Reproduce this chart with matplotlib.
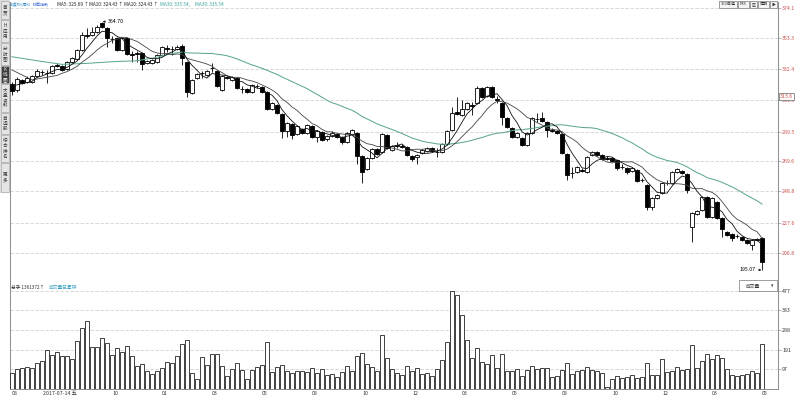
import matplotlib
matplotlib.use("Agg")
import matplotlib.pyplot as plt
import numpy as np
import pandas as pd
from matplotlib.patches import Rectangle

plt.rcParams['font.family'] = ['Noto Sans CJK SC', 'DejaVu Sans']

# weekly candles
open_px = [322.2, 318.1, 324.9, 323.6, 323.6, 327.7, 330.7, 330.0, 329.7, 335.2,
           334.2, 332.4, 337.2, 339.3, 345.4, 355.7, 355.7, 357.7, 363.9, 360.4,
           352.9, 353.6, 345.4, 353.6, 342.7, 343.4, 343.4, 336.5, 336.5, 337.2,
           342.0, 346.8, 346.1, 346.1, 348.2, 337.2, 316.1, 326.3, 329.7, 328.3,
           333.1, 331.1, 318.1, 327.3, 324.9, 326.3, 319.1, 318.8, 316.7, 320.8,
           320.1, 316.7, 305.1, 307.8, 301.7, 290.1, 294.9, 288.1, 291.5, 288.7,
           293.5, 286.0, 289.4, 284.6, 286.7, 288.1, 286.0, 282.6, 288.1, 288.7,
           273.0, 264.1, 271.7, 277.8, 275.7, 287.4, 277.1, 280.5, 279.9, 279.2,
           273.0, 272.3, 275.1, 276.4, 278.5, 276.1, 275.7, 281.2, 290.8, 303.1,
           301.0, 305.1, 307.8, 309.2, 319.5, 314.0, 320.1, 311.9, 309.2, 299.0,
           292.1, 286.0, 285.3, 280.5, 288.7, 298.3, 299.0, 296.3, 290.8, 290.1,
           288.1, 274.4, 261.4, 262.1, 263.5, 262.1, 273.7, 275.7, 273.7, 271.7,
           271.7, 270.3, 265.8, 264.8, 262.8, 263.5, 256.6, 253.2, 238.2, 244.3,
           247.7, 254.9, 254.6, 262.1, 262.8, 260.7, 224.5, 233.4, 236.1, 245.0,
           231.4, 241.6, 230.7, 221.1, 219.7, 218.7, 217.7, 215.7, 212.2, 216.3,
           217.0]
close_px = [317.4, 325.6, 322.9, 326.3, 327.7, 331.1, 330.4, 329.7, 334.5, 334.8,
            331.8, 337.2, 339.9, 345.4, 355.7, 355.3, 357.7, 361.1, 361.1, 353.6,
            352.6, 345.4, 353.6, 342.7, 342.3, 343.0, 335.8, 337.9, 338.6, 342.0,
            347.5, 346.4, 345.8, 347.5, 339.9, 316.7, 324.9, 329.0, 329.4, 331.1,
            332.8, 320.8, 327.7, 326.3, 327.0, 319.5, 318.8, 316.7, 321.5, 320.5,
            316.7, 305.1, 309.2, 302.4, 290.1, 295.6, 287.4, 293.5, 288.7, 294.2,
            286.0, 290.1, 284.0, 286.7, 288.7, 286.0, 282.6, 288.7, 290.8, 273.0,
            262.1, 271.7, 277.8, 274.4, 288.1, 278.5, 279.9, 280.2, 279.5, 273.7,
            271.0, 273.7, 277.1, 278.5, 276.4, 275.7, 281.2, 290.1, 302.4, 301.7,
            305.1, 309.2, 307.5, 319.5, 313.3, 320.1, 313.3, 311.6, 299.7, 292.8,
            286.0, 288.7, 280.5, 288.7, 299.0, 298.0, 296.9, 290.8, 290.4, 288.7,
            275.1, 260.0, 261.1, 265.5, 263.1, 272.3, 275.7, 273.7, 271.0, 271.3,
            269.6, 264.8, 265.5, 262.1, 264.8, 255.9, 256.3, 238.2, 244.3, 246.4,
            254.6, 254.6, 262.1, 264.1, 261.4, 249.8, 234.1, 235.4, 245.0, 231.4,
            244.3, 230.7, 223.2, 219.0, 217.0, 218.4, 215.7, 213.6, 215.7, 216.0,
            200.6]
high_px = [323.6, 327.0, 325.6, 327.7, 328.3, 332.4, 331.8, 331.8, 335.2, 336.5,
           335.2, 337.9, 340.6, 346.1, 357.7, 360.4, 361.1, 362.5, 364.7, 361.1,
           355.0, 354.3, 354.3, 354.3, 344.7, 344.7, 344.0, 338.6, 339.3, 342.7,
           348.2, 348.8, 348.2, 348.8, 349.5, 337.9, 325.6, 329.7, 331.1, 331.8,
           336.5, 331.8, 328.3, 327.7, 327.7, 327.0, 320.8, 319.5, 322.2, 322.2,
           320.8, 317.4, 309.9, 308.5, 302.4, 296.3, 295.6, 294.2, 292.1, 294.9,
           294.2, 290.8, 290.1, 287.4, 290.1, 288.7, 286.7, 289.4, 291.5, 289.4,
           273.7, 272.3, 278.5, 278.5, 288.7, 288.1, 280.5, 282.6, 281.2, 279.9,
           273.7, 274.4, 277.8, 279.2, 279.2, 278.5, 281.9, 290.8, 306.5, 313.3,
           311.3, 309.9, 309.9, 320.8, 320.1, 320.8, 320.8, 314.0, 309.9, 299.7,
           292.8, 289.4, 286.0, 289.4, 299.7, 302.4, 303.1, 296.9, 292.1, 290.8,
           288.7, 275.1, 265.5, 266.2, 264.8, 273.0, 276.4, 276.4, 274.4, 273.0,
           272.3, 271.0, 267.6, 265.5, 265.5, 264.1, 258.0, 253.9, 245.0, 247.1,
           255.3, 256.6, 262.8, 264.8, 263.5, 261.4, 234.8, 236.1, 245.7, 245.7,
           245.0, 242.3, 231.4, 221.8, 220.4, 219.7, 218.4, 216.3, 216.3, 217.0,
           217.7]
low_px = [314.7, 316.7, 322.2, 322.9, 322.9, 327.0, 328.3, 322.9, 329.0, 333.8,
          331.1, 331.8, 336.5, 338.6, 344.7, 353.6, 355.0, 357.0, 360.4, 347.5,
          350.2, 344.7, 344.7, 342.0, 337.2, 337.2, 331.8, 335.8, 335.8, 336.5,
          341.3, 344.0, 342.0, 345.4, 335.2, 313.3, 315.4, 325.6, 326.3, 327.7,
          330.4, 320.1, 317.4, 325.6, 324.2, 318.8, 316.1, 316.1, 316.1, 319.5,
          316.1, 304.4, 304.4, 301.7, 285.3, 286.0, 284.6, 287.4, 288.1, 288.1,
          285.3, 282.6, 283.3, 283.3, 286.0, 285.3, 281.2, 281.9, 287.4, 267.6,
          254.6, 263.5, 271.0, 273.7, 275.1, 277.8, 276.4, 278.5, 278.5, 273.0,
          269.6, 267.6, 274.4, 275.7, 275.7, 272.3, 275.1, 280.5, 290.1, 301.0,
          300.3, 304.4, 301.0, 308.5, 312.6, 313.3, 312.6, 309.2, 294.2, 292.1,
          285.3, 285.3, 279.9, 279.9, 288.1, 296.3, 296.3, 286.0, 289.4, 288.1,
          274.4, 256.6, 258.0, 261.4, 262.1, 261.4, 273.0, 273.0, 270.3, 270.3,
          268.9, 263.5, 264.1, 260.7, 262.1, 255.3, 255.3, 236.1, 236.1, 243.6,
          247.1, 253.2, 253.9, 261.4, 260.7, 247.7, 214.3, 232.7, 235.4, 230.7,
          230.7, 230.0, 217.7, 218.4, 215.0, 217.0, 215.0, 212.9, 208.8, 215.0,
          195.07]
volume = [76, 97, 101, 106, 104, 125, 136, 188, 166, 179,
          159, 162, 146, 234, 297, 331, 203, 203, 247, 222,
          166, 200, 182, 209, 159, 110, 120, 88, 71, 88,
          101, 130, 127, 162, 218, 237, 76, 49, 154, 117,
          169, 169, 110, 62, 97, 125, 93, 49, 93, 107,
          115, 229, 83, 107, 117, 88, 78, 88, 90, 85,
          100, 80, 95, 70, 75, 60, 85, 110, 90, 160,
          175, 120, 105, 90, 265, 150, 95, 80, 70, 110,
          90, 100, 75, 80, 65, 95, 140, 230, 477, 460,
          360, 240, 150, 200, 130, 120, 165, 100, 170, 88,
          88, 97, 63, 93, 110, 97, 101, 101, 60, 63,
          93, 127, 73, 89, 93, 106, 93, 88, 76, 11,
          49, 65, 54, 60, 67, 54, 58, 125, 67, 67,
          145, 83, 88, 106, 93, 97, 213, 101, 136, 169,
          146, 164, 151, 97, 68, 63, 68, 73, 89, 78,
          218]

# moving-average lines where the window reaches back before the first bar
ma5_lead_bars, ma5_lead = [0], [320.8]
ma10_lead_bars, ma10_lead = [0, 4], [331.8, 325.0]
ma30_lead_bars, ma30_lead = [0, 5, 10, 15, 20, 25], [340.8, 338.1, 335.6, 336.3, 337.4, 338.1]

price_ticks = [374.1, 353.3, 332.4, 311.5, 289.5, 269.6, 248.8, 227.6, 206.8]
vol_ticks = [97, 191, 288, 383, 477]
date_bars = [0, 20, 30, 40, 50, 60, 70, 80, 90, 100, 110, 120, 130, 140, 150]
date_labels = ["08", "10", "01", "03", "05", "08", "10", "12", "03", "05",
               "08", "10", "12", "03", "05"]

W, H = 800, 398
fig = plt.figure(figsize=(8, 3.98), dpi=100)
fig.patch.set_facecolor("white")


def box(x0, y0, x1, y1):
    return [x0 / W, 1 - y1 / H, (x1 - x0) / W, (y1 - y0) / H]


def fx(x):
    return x / W


def fy(y):
    return 1 - y / H


ax = fig.add_axes(box(10, 2, 778, 283))
axv = fig.add_axes(box(10, 283, 778, 389), sharex=ax)

n = len(close_px)
idx = np.arange(n)
o = np.array(open_px)
c = np.array(close_px)
up = c >= o

# candles
ax.vlines(idx, low_px, high_px, color="black", lw=0.6, zorder=2)
ax.bar(idx, np.maximum(np.abs(c - o), 0.3), bottom=np.minimum(o, c), width=0.72,
       color=np.where(up, "white", "black"), edgecolor="black", lw=0.6, zorder=3)

# MA lines
s = pd.Series(close_px)


def ma_line(win, lead_bars, lead_vals):
    m = s.rolling(win).mean()
    xs = list(lead_bars) + list(range(win - 1, n))
    ys = list(lead_vals) + list(m.iloc[win - 1:])
    return xs, ys


ax.plot(*ma_line(30, ma30_lead_bars, ma30_lead), color="#5fa894", lw=0.75, zorder=4)
ax.plot(*ma_line(10, ma10_lead_bars, ma10_lead), color="#444444", lw=0.6, zorder=4)
ax.plot(*ma_line(5, ma5_lead_bars, ma5_lead), color="#111111", lw=0.6, zorder=4)

ax.set_xlim(-0.4, 153.2)
ax.set_ylim(186.3, 378.2)
ax.set_yticks(price_ticks)
ax.set_yticklabels([f"{v:.1f}" for v in price_ticks])
ax.yaxis.tick_right()
ax.tick_params(axis="y", labelsize=3.8, labelcolor="#c8504d", length=2, color="#999999", pad=1, width=0.5)
ax.tick_params(axis="x", bottom=False, labelbottom=False)
ax.grid(axis="y", color="#d0d0d0", lw=0.6, ls=(0, (4, 2)))
ax.set_axisbelow(True)
ax.spines["top"].set_visible(False)
for sp in ["left", "right", "bottom"]:
    ax.spines[sp].set_color("#8c8c8c")
    ax.spines[sp].set_linewidth(0.7)

ax.annotate("364.70", xy=(18, 364.7), xytext=(4.5, 0.3), textcoords="offset points",
            fontsize=3.8, va="center", ha="left",
            arrowprops=dict(arrowstyle="->", lw=0.5, color="black", shrinkA=0, shrinkB=0.5, mutation_scale=3))
ax.annotate("195.07", xy=(150, 195.07), xytext=(-4.5, 0.8), textcoords="offset points",
            fontsize=3.8, va="center", ha="right",
            arrowprops=dict(arrowstyle="->", lw=0.5, color="black", shrinkA=0, shrinkB=0.5, mutation_scale=3))

# volume
axv.bar(idx, volume, width=0.72, color="white", edgecolor="#222222", lw=0.6, zorder=3)
axv.set_ylim(0, 516)
axv.set_yticks(vol_ticks)
axv.set_yticklabels([str(v) for v in vol_ticks])
axv.yaxis.tick_right()
axv.tick_params(axis="y", labelsize=3.8, labelcolor="#333333", length=2, color="#999999", pad=1, width=0.5)
axv.set_xticks(date_bars)
axv.set_xticklabels(date_labels)
axv.tick_params(axis="x", labelsize=3.8, length=0, pad=1.5, labelcolor="#333333")
for lbl in axv.get_xticklabels():
    lbl.set_ha("left")
axv.grid(axis="y", color="#d0d0d0", lw=0.6, ls=(0, (4, 2)))
axv.set_axisbelow(True)
axv.spines["top"].set_visible(False)
for sp in ["left", "right", "bottom"]:
    axv.spines[sp].set_color("#8c8c8c")
    axv.spines[sp].set_linewidth(0.7)

fig.text(fx(43), fy(393.5), "2017-07-14 五", fontsize=3.8, color="#333333", va="center", ha="left")

# header of price panel
hdr = [("前复权(周K)", 10, "#3b8fc0", 2.9), ("帐面指数", 33, "#3f6fd6", 2.9),
       ("MA5: 325.69 ↑", 57, "#222222", 3.4), ("MA10: 324.43 ↑", 89, "#222222", 3.4),
       ("MA10: 324.43 ↑", 124, "#222222", 3.4), ("MA30: 335.54,", 160, "#3aa39a", 3.4),
       ("MA30: 335.54", 195, "#3aa39a", 3.4)]
for txt, x, col, fs in hdr:
    fig.text(fx(x), fy(4.5), txt, fontsize=fs, color=col, va="center", ha="left")

# volume header
fig.text(fx(11), fy(287.5), "总手 1361372↑", fontsize=3.4, color="#333333", va="center", ha="left")
fig.text(fx(49), fy(287.5), "成交量已累积", fontsize=3.4, color="#3aa0c0", va="center", ha="left")
fig.add_artist(Rectangle((fx(739), fy(291)), 38 / W, 11 / H, transform=fig.transFigure,
                         fc="white", ec="#777777", lw=0.5, zorder=5))
fig.text(fx(753), fy(286), "成交量", fontsize=3.4, color="#333333", va="center", ha="center", zorder=6)
fig.text(fx(772), fy(286), "▾", fontsize=3.4, color="#333333", va="center", ha="center", zorder=6)

# last price box on the right axis
fig.text(fx(780), fy(96.5), "313.6", fontsize=3.8, color="#c8504d", va="center", ha="left",
         bbox=dict(boxstyle="square,pad=0.25", fc="white", ec="#666666", lw=0.5), zorder=6)

# top-right buttons
buttons = [("360自选", 719, 737), ("PX5", 738, 749), ("区", 750, 757), ("周期", 758, 769), ("▶", 770, 777)]
for txt, x0, x1 in buttons:
    fig.add_artist(Rectangle((fx(x0), fy(8)), (x1 - x0) / W, 7.5 / H, transform=fig.transFigure,
                             fc="#f4f4f4", ec="#777777", lw=0.5))
    fig.text(fx((x0 + x1) / 2), fy(4.3), txt, fontsize=2.9, color="#333333", va="center", ha="center")

# left sidebar tabs, one character per row
tabs = [("首页", 1, 19), ("H应用", 20, 42), ("分时图", 43, 65), ("K线图", 66, 83),
        ("大盘资料", 84, 112), ("自选股", 113, 134), ("综合排名", 135, 162), ("更多", 163, 192)]
fig.add_artist(Rectangle((0, fy(193)), 9 / W, 193 / H, transform=fig.transFigure,
                         fc="#dcdcdc", ec="none"))
for txt, y0, y1 in tabs:
    dark = txt == "K线图"
    fig.add_artist(Rectangle((fx(0.5), fy(y1)), 8.5 / W, (y1 - y0) / H, transform=fig.transFigure,
                             fc="#3c3c3c" if dark else "#e4e4e4", ec="#a8a8a8", lw=0.5))
    step = 5.2
    top = (y0 + y1) / 2 - step * (len(txt) - 1) / 2
    for k, ch in enumerate(txt):
        fig.text(fx(4.8), fy(top + k * step), ch, fontsize=3.3,
                 color="white" if dark else "#333333", va="center", ha="center")

fig.savefig("out.png", dpi=100)
